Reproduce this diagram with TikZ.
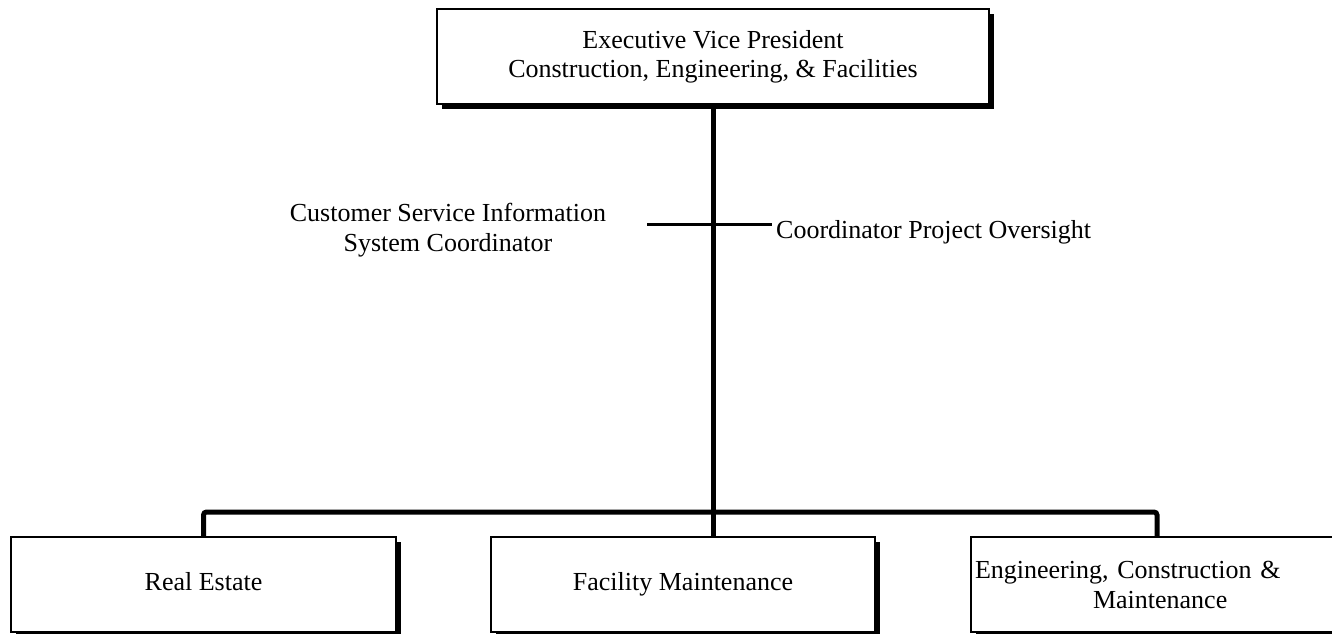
\documentclass[tikz,border=0pt]{standalone}
\usepackage{fontspec}
\setmainfont{Liberation Serif}
\usetikzlibrary{shadows}
\begin{document}
\begin{tikzpicture}[x=1pt,y=-1pt,
  box/.style={draw=black, line width=1.2pt, fill=white, inner sep=0pt,
    minimum height=95pt, align=center,
    drop shadow={shadow xshift=5pt, shadow yshift=-5pt, opacity=1, fill=black}},
  txt/.style={inner sep=0pt, align=center},
  thick line/.style={line width=5pt},
  thin line/.style={line width=3pt},
  every node/.style={font=\fontsize{26}{30}\selectfont}]
\useasboundingbox (0,0) rectangle (1332,633);
\clip (0,0) rectangle (1332,633);
\node[box, minimum width=552pt, font=\fontsize{26}{29}\selectfont] (evp) at (713,56.5) {Executive Vice President\\Construction, Engineering, \& Facilities};
\node[box, minimum width=385pt] (re) at (203.5,584.5) {\strut Real Estate};
\node[box, minimum width=384pt] (fm) at (683,584.5) {\strut Facility Maintenance};
\node[box, minimum width=372pt, text width=364pt, align=left, inner xsep=4pt] (ecm) at (1157,584.5) {Engineering, Construction \&\\\hspace*{118pt}Maintenance\\[-6pt]};
\coordinate (drop) at (713,537);
\coordinate (bus) at (713,512);
\coordinate (csL) at (647,224);
\coordinate (csR) at (772,224);
\draw[thick line] (evp.south) -- (drop);
\draw[thick line, rounded corners=3pt] (re.north) |- (bus) -| (ecm.north);
\draw[thin line] (csL) -- (csR);
\node[txt] (csis) at (448,230) {Customer Service Information\\System Coordinator};
\node[txt, anchor=west] (cpo) at (776,232) {Coordinator Project Oversight};
\end{tikzpicture}
\end{document}
